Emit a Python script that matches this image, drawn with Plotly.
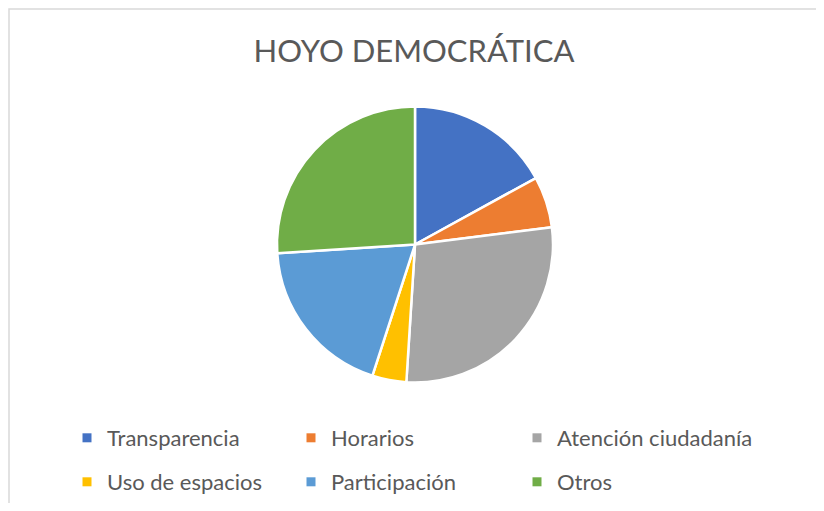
import plotly.graph_objects as go

categories = ["Transparencia", "Horarios", "Atención ciudadanía",
              "Uso de espacios", "Participación", "Otros"]
values = [17, 6, 28, 4, 19, 26]
colors = ["#4472C4", "#ED7D31", "#A5A5A5", "#FFC000", "#5B9BD5", "#70AD47"]
title_text = "HOYO DEMOCRÁTICA"

# page body has an 8px margin; figure is sized to fit the 824x511 window
W, H = 812, 495
FONT = "Lato, sans-serif"

fig = go.Figure()
fig.add_trace(go.Pie(
    labels=categories, values=values, sort=False, direction="clockwise",
    rotation=0, textinfo="none", hoverinfo="label+value+percent",
    marker=dict(colors=colors, line=dict(color="white", width=2.5)),
    domain=dict(x=[269 / W, 545 / W], y=[1 - 376 / H, 1 - 98 / H]),
    showlegend=False,
))

legend_names = ["legend", "legend2", "legend3", "legend4", "legend5", "legend6"]
for cat, col, lg in zip(categories, colors, legend_names):
    fig.add_trace(go.Scatter(
        x=[None], y=[None], mode="markers", name=cat,
        marker=dict(symbol="square", size=9, color=col),
        legend=lg,
    ))

legend_common = dict(
    orientation="h", xanchor="left", yanchor="middle",
    font=dict(family=FONT, size=22, color="#595959"),
    bgcolor="rgba(0,0,0,0)",
)
col_x = [59, 283, 509]
row_y = [430, 475]
legends = {}
for i, lg in enumerate(legend_names):
    legends[lg] = dict(x=col_x[i % 3] / W, y=1 - row_y[i // 3] / H,
                       **legend_common)

fig.update_layout(
    width=W, height=H,
    margin=dict(l=0, r=0, t=0, b=0),
    paper_bgcolor="white", plot_bgcolor="white",
    title=dict(text=title_text, x=0.5, xanchor="center", y=1 - 43 / H,
               yanchor="middle",
               font=dict(family=FONT, size=31, color="#595959")),
    xaxis=dict(visible=False), yaxis=dict(visible=False),
    shapes=[dict(type="rect", xref="paper", yref="paper",
                 x0=1 / W, x1=811 / W, y0=-0.05, y1=1 - 1 / H,
                 line=dict(color="#D9D9D9", width=1.5), layer="below")],
    **legends,
)

fig.write_html("out.html")
